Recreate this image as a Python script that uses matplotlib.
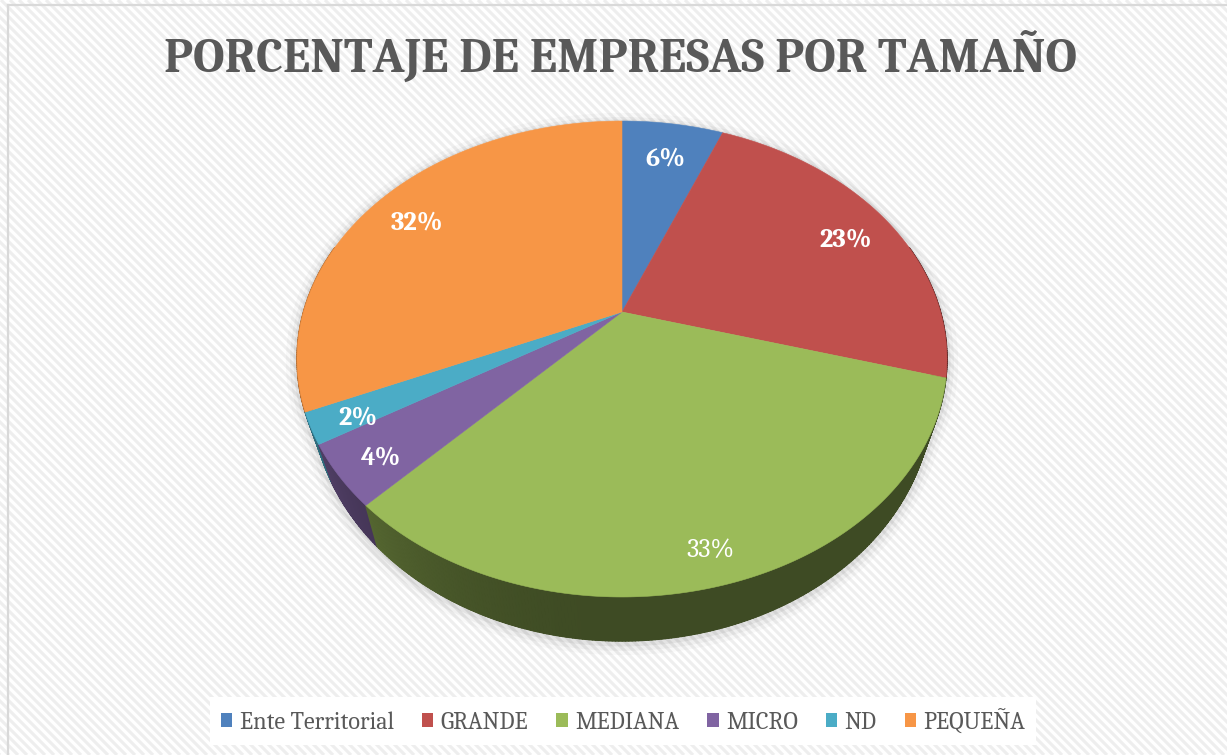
import numpy as np
import matplotlib
matplotlib.use("Agg")
import matplotlib.pyplot as plt
from matplotlib.patches import Polygon, Patch
from matplotlib.collections import PolyCollection, LineCollection
from matplotlib.colors import to_rgb

categories = ["Ente Territorial", "GRANDE", "MEDIANA", "MICRO", "ND", "PEQUEÑA"]
values = [6.1, 23.3, 32.7, 4.2, 2.1, 31.6]
colors = ["#4F81BD", "#C0504D", "#9BBB59", "#8064A2", "#4BACC6", "#F79646"]
label_weights = ["bold", "bold", "normal", "bold", "bold", "bold"]
title = "PORCENTAJE DE EMPRESAS POR TAMAÑO"

FONT = ["Caladea", "Liberation Serif", "DejaVu Serif"]

W, H = 1227, 755
fig = plt.figure(figsize=(W / 100, H / 100), dpi=100)
fig.patch.set_facecolor("white")
ax = fig.add_axes([0, 0, 1, 1])
ax.set_xlim(0, W)
ax.set_ylim(H, 0)
ax.axis("off")

# background stripes
step = 9
segs = [[(x0, 0), (x0 + H, H)] for x0 in np.arange(-H, W + step, step)]
ax.add_collection(LineCollection(segs, colors="#eeeeee", linewidths=2.2, zorder=0))
ax.plot([8, 8], [H + 5, 5], color="#d9d9d9", lw=1.6, zorder=0.5)
ax.plot([8, W + 5], [5, 5], color="#d9d9d9", lw=1.6, zorder=0.5)

# perspective pie geometry
cx, cy = 622, 312
A, B, c, T = 318.6, 228.7, 0.1975, 35.3
S_BOTTOM = 0.955  # bottom disk is farther from the eye -> slightly narrower


def proj(theta_deg, depth=0.0, r=1.0):
    t = np.radians(theta_deg)
    x = r * np.cos(t)
    y = r * np.sin(t)
    d = 1 + c * y
    s = 1 - depth * (1 - S_BOTTOM)
    return cx + s * A * x / d, cy - B * y / d + depth * T / d


def shade(theta_deg):
    return 0.40 + 0.30 * np.clip(-np.cos(np.radians(theta_deg)), 0, None) ** 2


fr = np.array(values) / np.sum(values)
edges = 90 - 360 * np.concatenate([[0], np.cumsum(fr)])

# shadow / silhouette
th_all = np.linspace(0, 360, 721)
tx, ty = proj(th_all)
bx, by = proj(th_all, depth=1)
pts = np.vstack([np.column_stack([tx, ty]), np.column_stack([bx, by])])


def hull(p):
    p = sorted(map(tuple, p))

    def cross(o, a, b):
        return (a[0] - o[0]) * (b[1] - o[1]) - (a[1] - o[1]) * (b[0] - o[0])
    lower, upper = [], []
    for q in p:
        while len(lower) >= 2 and cross(lower[-2], lower[-1], q) <= 0:
            lower.pop()
        lower.append(q)
    for q in reversed(p):
        while len(upper) >= 2 and cross(upper[-2], upper[-1], q) <= 0:
            upper.pop()
        upper.append(q)
    return np.array(lower[:-1] + upper[:-1])


hp = hull(pts)
for lw, al, off in [(16, 0.025, 3), (10, 0.035, 3), (5, 0.05, 2)]:
    ax.add_patch(Polygon(hp + np.array([0, off]), closed=True, fill=False,
                         edgecolor="black", lw=lw, alpha=al, zorder=1, joinstyle="round"))

# side walls: flat underlay per slice + fine shaded strips
quads, qcols, qkeys = [], [], []
for i in range(len(values)):
    a0, a1 = edges[i], edges[i + 1]
    n = max(2, int(abs(a0 - a1) * 2))
    ths = np.linspace(a0, a1, n + 1)
    base = np.array(to_rgb(colors[i]))
    front = ths[np.sin(np.radians(ths)) <= 0.3]
    if len(front) >= 2:
        xt, yt = proj(front)
        xb, yb = proj(front[::-1], depth=1)
        under = np.column_stack([np.r_[xt, xb], np.r_[yt, yb]])
        mcol = np.clip(base * shade(front.mean()), 0, 1)
        ax.add_patch(Polygon(under, closed=True, facecolor=mcol, edgecolor=mcol,
                             lw=0.5, zorder=1.9))
    for t0, t1 in zip(ths[:-1], ths[1:]):
        tm = 0.5 * (t0 + t1)
        if np.sin(np.radians(tm)) > 0.3:
            continue
        x0, y0 = proj(t0)
        x1, y1 = proj(t1)
        x2, y2 = proj(t1, depth=1)
        x3, y3 = proj(t0, depth=1)
        col = np.clip(base * shade(tm), 0, 1)
        quads.append([(x0, y0), (x1, y1), (x2, y2), (x3, y3)])
        qcols.append(col)
        qkeys.append(np.sin(np.radians(tm)))
order = np.argsort(-np.array(qkeys))
ax.add_collection(PolyCollection([quads[k] for k in order],
                                 facecolors=[qcols[k] for k in order],
                                 edgecolors=[qcols[k] for k in order],
                                 linewidths=1.0, zorder=2))

# top faces
for i in range(len(values)):
    ths = np.linspace(edges[i], edges[i + 1], max(3, int(abs(edges[i] - edges[i + 1]) * 2)))
    xs, ys = proj(ths)
    poly = np.vstack([[cx, cy], np.column_stack([xs, ys])])
    ax.add_patch(Polygon(poly, closed=True, facecolor=colors[i], edgecolor=colors[i],
                         lw=0.4, zorder=3))

# labels
ex = cx
ey = 0.5 * (proj(90)[1] + proj(270)[1])
for i, v in enumerate(values):
    mid = 0.5 * (edges[i] + edges[i + 1])
    rx, ry = proj(mid)
    lx = ex + 0.85 * (rx - ex)
    ly = ey + 0.85 * (ry - ey)
    ax.text(lx, ly, f"{v:.0f}%", ha="center", va="center", color="white",
            fontsize=19, fontweight=label_weights[i], family=FONT, zorder=5)

ax.text(620, 72, title, ha="center", va="baseline", fontsize=35.2, fontweight="bold",
        color="#595959", family=FONT, zorder=5)

handles = [Patch(facecolor=col, edgecolor="none") for col in colors]
leg = fig.legend(handles, categories, loc="center", bbox_to_anchor=(623 / W, 1 - 721 / H),
                 ncol=6, frameon=True, facecolor="white", edgecolor="none", framealpha=1,
                 fancybox=False, prop={"family": FONT, "size": 17.5},
                 handlelength=0.48, handleheight=0.48, handletextpad=0.3, columnspacing=1.15,
                 borderpad=0.45, borderaxespad=0)
for t in leg.get_texts():
    t.set_color("#595959")

fig.savefig("out.png", dpi=100)
